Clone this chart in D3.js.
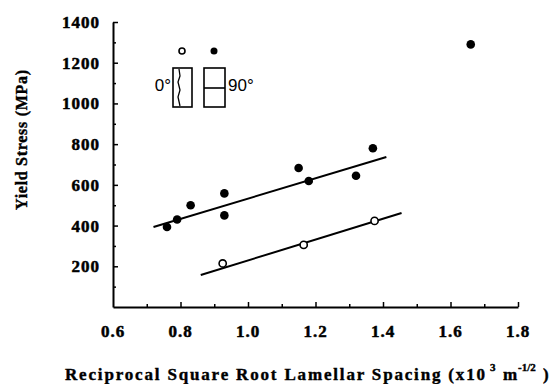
<!DOCTYPE html>
<html>
<head>
<meta charset="utf-8">
<script src="https://cdn.jsdelivr.net/npm/d3@7"></script>
<style>
  body { margin: 0; background: #fff; }
  .bold { font-family: 'Liberation Serif', 'DejaVu Serif', serif; font-weight: bold; fill: #000; stroke: #000; stroke-width: 0.5px; }
</style>
</head>
<body>
<div id="chart"></div>
<script>
// values
const filledX = [0.76, 0.79, 0.83, 0.93, 0.93, 1.15, 1.18, 1.32, 1.37, 1.66];
const filledY = [393, 430, 500, 450, 558, 683, 619, 645, 780, 1290];
const openX = [0.925, 1.165, 1.375];
const openY = [214, 305, 423];
const fitFilled = [[0.72, 393], [1.41, 737]];
const fitOpen = [[0.86, 157], [1.455, 462]];
const xTicks = [0.6, 0.8, 1.0, 1.2, 1.4, 1.6, 1.8];
const xTickLabels = ['0.6', '0.8', '1.0', '1.2', '1.4', '1.6', '1.8'];
const yTicks = [200, 400, 600, 800, 1000, 1200, 1400];

const width = 558, height = 384;
const margin = { top: 22, right: 40, bottom: 77, left: 113 };
const sans = "'Liberation Sans', Arial, sans-serif";

const svg = d3.select('#chart').append('svg')
  .attr('width', width)
  .attr('height', height);

const x = d3.scaleLinear().domain([0.6, 1.8]).range([margin.left, width - margin.right]);
const y = d3.scaleLinear().domain([0, 1400]).range([height - margin.bottom, margin.top]);

// y axis, ticks pointing inward
const yAxis = svg.append('g')
  .attr('transform', `translate(${margin.left},0)`)
  .call(d3.axisRight(y).tickValues(d3.range(100, 1401, 100)).tickSizeOuter(0)
    .tickSize(0).tickFormat(''));
yAxis.select('.domain').attr('stroke-width', 2);
yAxis.selectAll('.tick line')
  .attr('x2', (d) => (d % 200 === 0 ? 5 : 3))
  .attr('stroke-width', 1.5);

svg.append('g').selectAll('text')
  .data(yTicks)
  .enter().append('text')
  .attr('class', 'bold')
  .attr('x', margin.left - 13)
  .attr('y', (d) => y(d) + 6)
  .attr('text-anchor', 'end')
  .style('font-size', '17px')
  .style('letter-spacing', '1px')
  .text((d) => d);

// x axis, ticks pointing up
const xAxis = svg.append('g')
  .attr('transform', `translate(0,${y(0)})`)
  .call(d3.axisTop(x).tickValues(d3.range(7, 19).map((d) => d / 10)).tickSizeOuter(0)
    .tickSize(0).tickFormat(''));
xAxis.select('.domain').attr('stroke-width', 2);
xAxis.selectAll('.tick line')
  .attr('y2', (d) => (Math.round(d * 10) % 2 === 0 ? -5 : -3))
  .attr('stroke-width', 1.5);

svg.append('g').selectAll('text')
  .data(xTicks)
  .enter().append('text')
  .attr('class', 'bold')
  .attr('x', (d) => x(d))
  .attr('y', y(0) + 30)
  .attr('text-anchor', 'middle')
  .style('font-size', '17px')
  .style('letter-spacing', '1px')
  .text((d, i) => xTickLabels[i]);

// fit lines
const line = d3.line().x((d) => x(d[0])).y((d) => y(d[1]));
[fitFilled, fitOpen].forEach((pts) => {
  svg.append('path')
    .attr('d', line(pts))
    .attr('fill', 'none')
    .attr('stroke', '#000')
    .attr('stroke-width', 2);
});

// points
svg.append('g').selectAll('circle')
  .data(filledX)
  .enter().append('circle')
  .attr('cx', (d) => x(d))
  .attr('cy', (d, i) => y(filledY[i]))
  .attr('r', 4.3)
  .attr('fill', '#000');

svg.append('g').selectAll('circle')
  .data(openX)
  .enter().append('circle')
  .attr('cx', (d) => x(d))
  .attr('cy', (d, i) => y(openY[i]))
  .attr('r', 3.6)
  .attr('fill', '#fff')
  .attr('stroke', '#000')
  .attr('stroke-width', 1.6);

// legend
const lg = svg.append('g');
lg.append('circle').attr('cx', 182).attr('cy', 51).attr('r', 3)
  .attr('fill', '#fff').attr('stroke', '#000').attr('stroke-width', 1.6);
lg.append('circle').attr('cx', 214).attr('cy', 51).attr('r', 3.5).attr('fill', '#000');
lg.append('rect').attr('x', 173).attr('y', 68).attr('width', 19).attr('height', 39)
  .attr('fill', 'none').attr('stroke', '#000').attr('stroke-width', 1.6);
lg.append('path').attr('d', 'M179,69 L180,76 L178,82 L180,90 L178,97 L180,106')
  .attr('fill', 'none').attr('stroke', '#000').attr('stroke-width', 1.3);
lg.append('rect').attr('x', 204).attr('y', 68).attr('width', 21).attr('height', 39)
  .attr('fill', 'none').attr('stroke', '#000').attr('stroke-width', 1.6);
lg.append('line').attr('x1', 204).attr('x2', 225).attr('y1', 88).attr('y2', 88)
  .attr('stroke', '#000').attr('stroke-width', 1.6);
lg.append('text').attr('x', 171).attr('y', 91).attr('text-anchor', 'end')
  .style('font-size', '17px').style('font-family', sans).text('0°');
lg.append('text').attr('x', 228).attr('y', 91)
  .style('font-size', '17px').style('font-family', sans).text('90°');

// axis titles
svg.append('text')
  .attr('class', 'bold')
  .attr('transform', 'translate(27,140) rotate(-90)')
  .attr('text-anchor', 'middle')
  .attr('textLength', 140)
  .attr('lengthAdjust', 'spacing')
  .style('font-size', '16px')
  .style('stroke-width', '0.4px')
  .text('Yield Stress (MPa)');

const xt = svg.append('text')
  .attr('class', 'bold')
  .attr('x', 65)
  .attr('y', 380)
  .style('font-size', '17px')
  .style('stroke-width', '0.4px');
xt.append('tspan').attr('textLength', 420).attr('lengthAdjust', 'spacing')
  .text('Reciprocal Square Root Lamellar Spacing (x10');
xt.append('tspan').attr('x', 490).attr('dy', -9).style('font-size', '11px').text('3');
xt.append('tspan').attr('x', 503).attr('dy', 9).text('m');
xt.append('tspan').attr('x', 518).attr('dy', -9).style('font-size', '11px').text('-1/2');
xt.append('tspan').attr('x', 543).attr('dy', 9).text(')');
</script>
</body>
</html>
